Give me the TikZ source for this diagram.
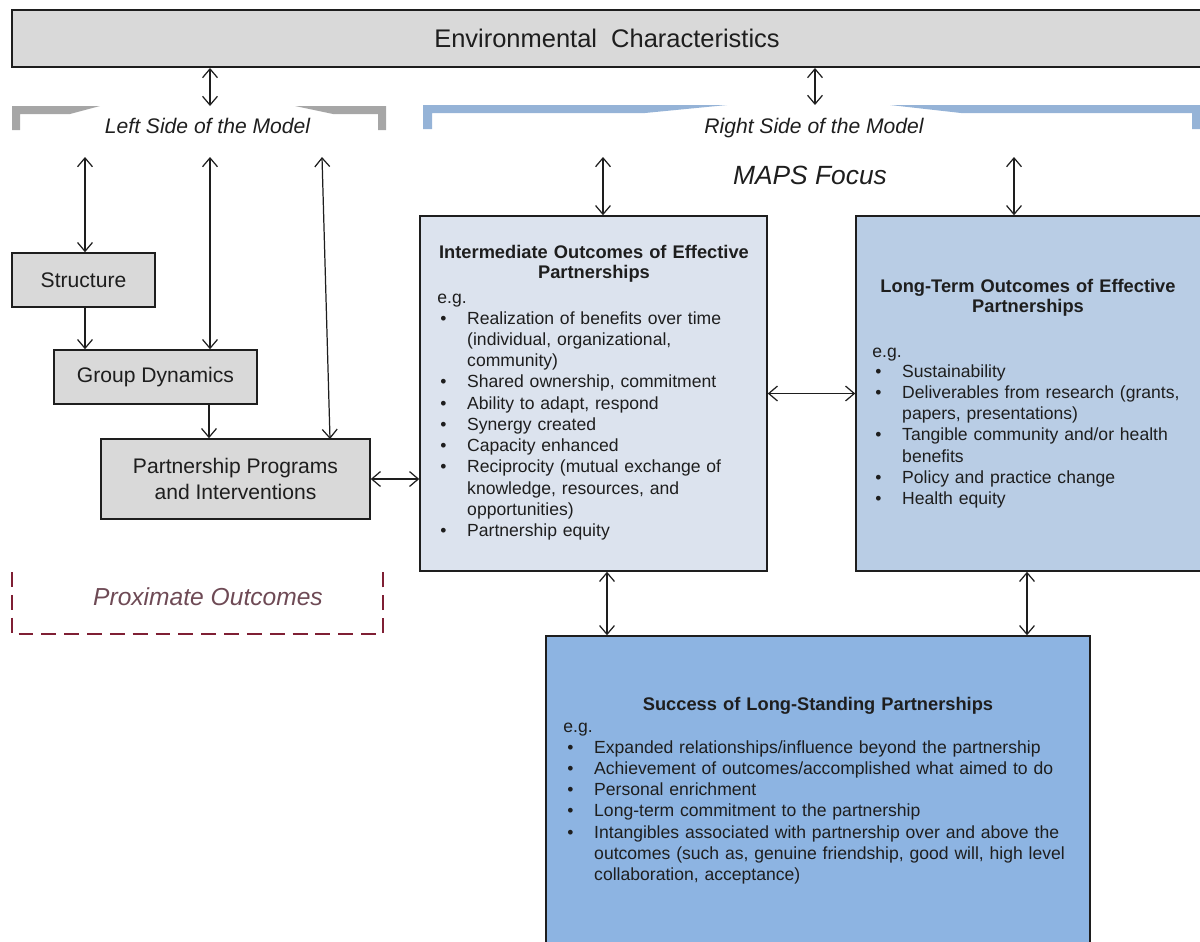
\documentclass[tikz,border=0pt]{standalone}
\usepackage{fontspec}
\setmainfont{Liberation Sans}
\usetikzlibrary{arrows.meta}
\definecolor{boxgray}{HTML}{D9D9D9}
\definecolor{intfill}{HTML}{DCE3EE}
\definecolor{ltfill}{HTML}{B9CDE5}
\definecolor{sucfill}{HTML}{8DB4E2}
\definecolor{brgray}{HTML}{A6A6A6}
\definecolor{brblue}{HTML}{95B3D7}
\definecolor{proxred}{HTML}{7F1F34}
\definecolor{proxtext}{HTML}{6E4A55}
\definecolor{ink}{HTML}{1E1E1E}
\newcommand{\bul}[1]{\hangindent=15.3pt\hangafter=1\noindent\makebox[15.3pt][l]{\textbullet}#1\par}
\tikzset{
  px/.style={x=0.02cm,y=-0.02cm},
  graybox/.style={draw=ink, line width=0.9pt, fill=boxgray, inner sep=0pt, text=ink, align=center, font=\fontsize{12}{14.7}\selectfont},
  bigbox/.style={draw=ink, line width=0.9pt, inner sep=0pt},
  titletext/.style={anchor=base, inner sep=0pt, text=ink, text width=9.5cm, align=center, font=\bfseries\fontsize{10.4}{11.9}\selectfont},
  listtext/.style={anchor=base west, inner sep=0pt, text=ink, text width=10cm, align=left, font=\fontsize{10}{12.1}\selectfont},
  sidelabel/.style={anchor=base, inner sep=0pt, text=ink, font=\itshape\fontsize{12}{14}\selectfont},
  conn/.style={draw=ink, line width=0.7pt},
  >={Straight Barb[length=5pt,width=8.5pt]}
}
\begin{document}
\begin{tikzpicture}[px]
\useasboundingbox (0,0) rectangle (1200,941);
\clip (0,0) rectangle (1200,941);

% environment box
\node[graybox, line width=1.1pt, minimum width=23.8cm, minimum height=1.14cm, font=\fontsize{14.5}{17}\selectfont] (env) at (607,38.5) {Environmental\ \ Characteristics};

% brackets
\fill[brgray] (12,106) -- (100,106) -- (70,114) -- (20,114) -- (20,130) -- (12,130) -- cycle;
\fill[brgray] (295,106) -- (386,106) -- (386,130) -- (378,130) -- (378,114) -- (333,114) -- cycle;
\fill[brblue] (423,105) -- (727,105) -- (645,113) -- (432,113) -- (432,129) -- (423,129) -- cycle;
\fill[brblue] (890,105) -- (1200,105) -- (1200,129) -- (1192,129) -- (1192,113) -- (961,113) -- cycle;
\node[sidelabel] (lside) at (207.5,133) {Left Side of the Model};
\node[sidelabel] (rside) at (814,133) {Right Side of the Model};
\node[sidelabel, font=\itshape\fontsize{15}{18}\selectfont] (maps) at (810,184) {MAPS Focus};

% left boxes
\node[graybox, minimum width=2.86cm, minimum height=1.08cm] (struct) at (83.5,280) {Structure};
\node[graybox, minimum width=4.06cm, minimum height=1.08cm] (group) at (155.5,377) {Group Dynamics};
\node[graybox, minimum width=5.38cm, minimum height=1.6cm] (pp) at (235.5,479) {Partnership Programs\\and Interventions};

% proximate outcomes
\draw[proxred, line width=1.3pt, dash pattern=on 8.5pt off 4.5pt] (12,572) -- (12,634) -- (383,634) -- (383,572);
\node[anchor=base, inner sep=0pt, text=proxtext, font=\itshape\fontsize{14}{17}\selectfont] (prox) at (208,605) {Proximate Outcomes};

% right boxes
\node[bigbox, fill=intfill, minimum width=6.94cm, minimum height=7.1cm] (inter) at (593.5,393.5) {};
\node[bigbox, fill=ltfill, minimum width=6.92cm, minimum height=7.1cm] (lt) at (1029,393.5) {};
\node[bigbox, fill=sucfill, minimum width=10.88cm, minimum height=6.48cm] (succ) at (818,798) {};

% intermediate text
\node[titletext] (inttitle) at (594,258) {Intermediate Outcomes of Effective\\Partnerships};
\node[listtext] (integ) at (437,303) {e.g.};
\node[listtext] (intlist) at (440,324) {%
\bul{Realization of benefits over time\newline(individual, organizational,\newline community)}%
\bul{Shared ownership, commitment}%
\bul{Ability to adapt, respond}%
\bul{Synergy created}%
\bul{Capacity enhanced}%
\bul{Reciprocity (mutual exchange of\newline knowledge, resources, and\newline opportunities)}%
\bul{Partnership equity}};

% long-term text
\node[titletext] (lttitle) at (1028,292) {Long-Term Outcomes of Effective\\Partnerships};
\node[listtext] (lteg) at (872,357) {e.g.};
\node[listtext] (ltlist) at (875,377) {%
\bul{Sustainability}%
\bul{Deliverables from research (grants,\newline papers, presentations)}%
\bul{Tangible community and/or health\newline benefits}%
\bul{Policy and practice change}%
\bul{Health equity}};

% success text
\node[titletext, text width=11cm] (suctitle) at (818,710) {Success of Long-Standing Partnerships};
\node[listtext] (suceg) at (563,732) {e.g.};
\node[listtext, text width=11cm] (suclist) at (567,753) {%
\bul{Expanded relationships/influence beyond the partnership}%
\bul{Achievement of outcomes/accomplished what aimed to do}%
\bul{Personal enrichment}%
\bul{Long-term commitment to the partnership}%
\bul{Intangibles associated with partnership over and above the\newline outcomes (such as, genuine friendship, good will, high level\newline collaboration, acceptance)}};

% connector anchor coordinates
\coordinate (lbtop) at (210,106);
\coordinate (rbtop) at (815,105);
\coordinate (lb1) at (85,157);
\coordinate (lb2) at (210,157);
\coordinate (lb3) at (322,157);
\coordinate (ppin) at (330,439);
\coordinate (gdx) at (209,0);
\coordinate (rb1) at (603,157);
\coordinate (rb2) at (1014,157);
\coordinate (isx) at (607,0);
\coordinate (lsx) at (1027,0);

% connectors
\draw[conn,<->] (env.south -| lbtop) -- (lbtop);
\draw[conn,<->] (env.south -| rbtop) -- (rbtop);
\draw[conn,<->] (lb1) -- (lb1 |- struct.north);
\draw[conn,<->] (lb2) -- (lb2 |- group.north);
\draw[conn,<->] (lb3) -- (ppin);
\draw[conn,->] (struct.south -| lb1) -- (group.north -| lb1);
\draw[conn,->] (group.south -| gdx) -- (pp.north -| gdx);
\draw[conn,<->] (pp.east) -- (pp.east -| inter.west);
\draw[conn,<->] (rb1) -- (rb1 |- inter.north);
\draw[conn,<->] (rb2) -- (rb2 |- lt.north);
\draw[conn,<->] (inter.east) -- (lt.west);
\draw[conn,<->] (inter.south -| isx) -- (succ.north -| isx);
\draw[conn,<->] (lt.south -| lsx) -- (succ.north -| lsx);
\end{tikzpicture}
\end{document}
